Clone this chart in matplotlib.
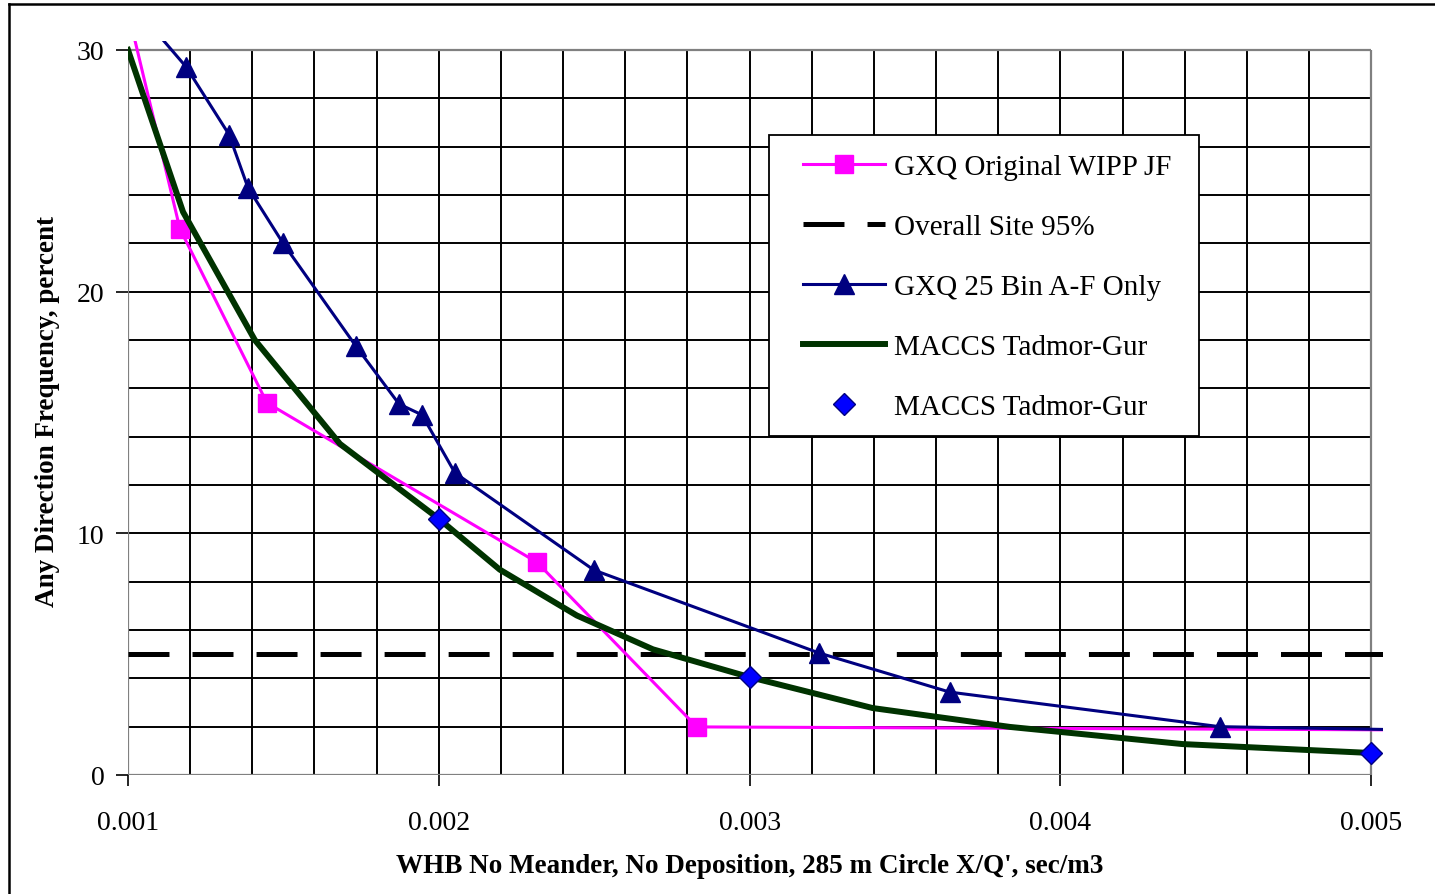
import numpy as np
import matplotlib
matplotlib.use("Agg")
import matplotlib.pyplot as plt
from matplotlib.lines import Line2D
from matplotlib.patches import Rectangle

plt.rcParams['font.family'] = ['Liberation Serif', 'DejaVu Serif']
plt.rcParams['lines.scale_dashes'] = False

# data
pink_x = [0.001, 0.001167, 0.001447, 0.002316, 0.00283, 0.0052]
pink_y = [31.6, 22.6, 15.4, 8.8, 1.99, 1.86]

site95_x = [0.001, 0.0052]
site95_y = [5, 5]

blue_x = [0.001, 0.001187, 0.001325, 0.001386, 0.001499, 0.001733, 0.001872,
          0.001946, 0.002052, 0.002499, 0.003223, 0.003644, 0.004512, 0.0052]
blue_y = [32.1, 29.3, 26.5, 24.3, 22.0, 17.75, 15.35, 14.9, 12.5, 8.48,
          5.05, 3.43, 2.0, 1.85]

green_x = [0.001, 0.001177, 0.001408, 0.001682, 0.002, 0.002196, 0.002444,
           0.002689, 0.003, 0.003396, 0.003837, 0.004393, 0.005]
green_y = [30.0, 23.3, 18.0, 13.7, 10.6, 8.5, 6.6, 5.2, 4.05, 2.77, 1.99,
           1.28, 0.91]

diamond_x = [0.002, 0.003, 0.005]
diamond_y = [10.6, 4.05, 0.91]

labels = ["GXQ Original WIPP JF", "Overall Site 95%", "GXQ 25 Bin A-F Only",
          "MACCS Tadmor-Gur", "MACCS Tadmor-Gur"]

xticks = [0.001, 0.002, 0.003, 0.004, 0.005]
yticks = [0, 10, 20, 30]

fig = plt.figure(figsize=(14.35, 8.95), dpi=100)
ax = fig.add_axes([128 / 1435, 1 - 776 / 895, 1255 / 1435, 734 / 895])
ax.set_xlim(0.001, 0.005038)
ax.set_ylim(0, 30.37)
for s in ax.spines.values():
    s.set_visible(False)

# grid
ax.vlines(np.arange(0.0012, 0.00499, 0.0002), 0, 30, color='black', lw=1.4, zorder=1)
ax.hlines(np.arange(2, 29, 2), 0.001, 0.005, color='black', lw=1.4, zorder=1)
ax.vlines([0.001, 0.005], 0, 30, color='#808080', lw=1.6, zorder=1)
ax.hlines([0, 30], 0.001, 0.005, color='#808080', lw=1.6, zorder=1)

ax.plot(pink_x, pink_y, color='#FF00FF', lw=2.2, marker='s', ms=13,
        mec='#FF00FF', label=labels[0], zorder=3)
ax.plot(site95_x, site95_y, color='black', lw=3.6, dashes=(29.5, 16.6),
        label=labels[1], zorder=4)
ax.plot(blue_x, blue_y, color='#000080', lw=2.2, marker='^', ms=14,
        label=labels[2], zorder=5)
ax.plot(green_x, green_y, color='#003300', lw=4.3, label=labels[3], zorder=6)
ax.plot(diamond_x, diamond_y, ls='none', marker='D', ms=11, mfc='#0000FF',
        mec='#000080', mew=1, label=labels[4], zorder=7, clip_on=False)

ax.set_xticks(xticks)
ax.set_xticklabels([f"{v:.3f}" for v in xticks])
ax.set_yticks(yticks)
ax.tick_params(axis='both', labelsize=20, direction='out', color='black', width=1.2)
ax.tick_params(axis='x', length=8, pad=17)
ax.tick_params(axis='y', length=9, pad=8)

# legend box drawn separately so the inner padding can differ per side
ax.add_patch(Rectangle((0.5108, 0.4619), 0.3426, 0.4101, transform=ax.transAxes,
                       facecolor='white', edgecolor='black', lw=1.3, zorder=9))
leg = ax.legend(loc='upper left', bbox_to_anchor=(0.5378, 0.846), borderaxespad=0,
                fontsize=21, numpoints=1, handlelength=2.83, handletextpad=0.28,
                labelspacing=1.15, borderpad=0, frameon=False)
leg.set_zorder(10)

fig.text(749.5 / 1435, 1 - 867 / 895, "WHB No Meander, No Deposition, 285 m Circle X/Q', sec/m3",
         ha='center', va='center', fontsize=19.5, fontweight='bold')
fig.text(48 / 1435, 1 - 412 / 895, "Any Direction Frequency, percent", rotation=90,
         ha='center', va='center', fontsize=19.5, fontweight='bold')

# outer chart border
fig.add_artist(Line2D([9 / 1435, 9 / 1435], [-0.01, 1 - 5 / 895], color='black', lw=1.8))
fig.add_artist(Line2D([9 / 1435, 1.01], [1 - 5 / 895, 1 - 5 / 895], color='black', lw=1.8))

fig.savefig("out.png", dpi=100)
